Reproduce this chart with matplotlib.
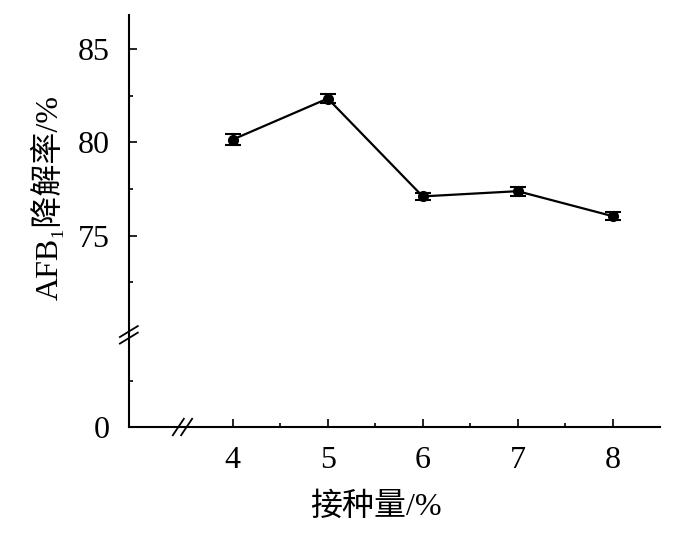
import matplotlib
matplotlib.use('Agg')
import matplotlib.pyplot as plt

# data
dose = [4, 5, 6, 7, 8]
rate = [80.15, 82.35, 77.1, 77.38, 76.04]
err = [0.28, 0.25, 0.2, 0.25, 0.2]

fam = ['Liberation Serif', 'Noto Sans CJK SC', 'DejaVu Serif']

fig = plt.figure(figsize=(6.89, 5.48), dpi=100)
left, right = 0.187, 0.958
bot, split, top = 0.2208, 0.395, 0.9726
ax = fig.add_axes([left, split, right - left, top - split])
axb = fig.add_axes([left, bot, right - left, split - bot], sharex=ax)

ax.errorbar(dose, rate, yerr=err, color='black', marker='o', markersize=7,
            linewidth=1.6, elinewidth=1.5, capsize=5.8, capthick=1.5)

ax.set_xlim(2.905, 8.5)
ax.set_ylim(69.85, 86.83)
axb.set_ylim(0, 5.15)

for a in (ax, axb):
    a.spines['top'].set_visible(False)
    a.spines['right'].set_visible(False)
    a.spines['left'].set_linewidth(1.5)
    a.spines['bottom'].set_linewidth(1.5)
    a.tick_params(which='both', direction='in', width=1.2, labelsize=23, pad=14)
    a.tick_params(which='major', length=6)
    a.tick_params(which='minor', length=3)
ax.spines['bottom'].set_visible(False)
ax.tick_params(axis='x', which='both', bottom=False, labelbottom=False)

ax.set_yticks([75, 80, 85])
ax.set_yticks([72.5, 77.5, 82.5], minor=True)
axb.set_yticks([0])
axb.set_yticks([2.5], minor=True)
axb.set_xticks(dose)
axb.set_xticks([4.5, 5.5, 6.5, 7.5], minor=True)
for a in (ax, axb):
    for t in a.get_yticklabels() + a.get_xticklabels():
        t.set_family(fam)

# break marks
kw = dict(color='black', linewidth=1.3, clip_on=False)
for dy in (-0.012, 0.0):
    fig.add_artist(plt.Line2D([left - 0.013, left + 0.013],
                              [split - 0.01 + dy, split + 0.01 + dy], **kw))
for dx in (-0.006, 0.006):
    xb = left + (3.47 - 2.905) / (8.5 - 2.905) * (right - left) + dx
    fig.add_artist(plt.Line2D([xb - 0.008, xb + 0.008],
                              [bot - 0.015, bot + 0.015], **kw))

fig.text(0.07, 0.639, 'AFB\u2081降解率/%', rotation=90, ha='center', va='center',
         fontsize=23, family=fam)
fig.text(0.545, 0.075, '接种量/%', ha='center', va='center',
         fontsize=23, family=fam)

fig.savefig('out.png', dpi=100)
